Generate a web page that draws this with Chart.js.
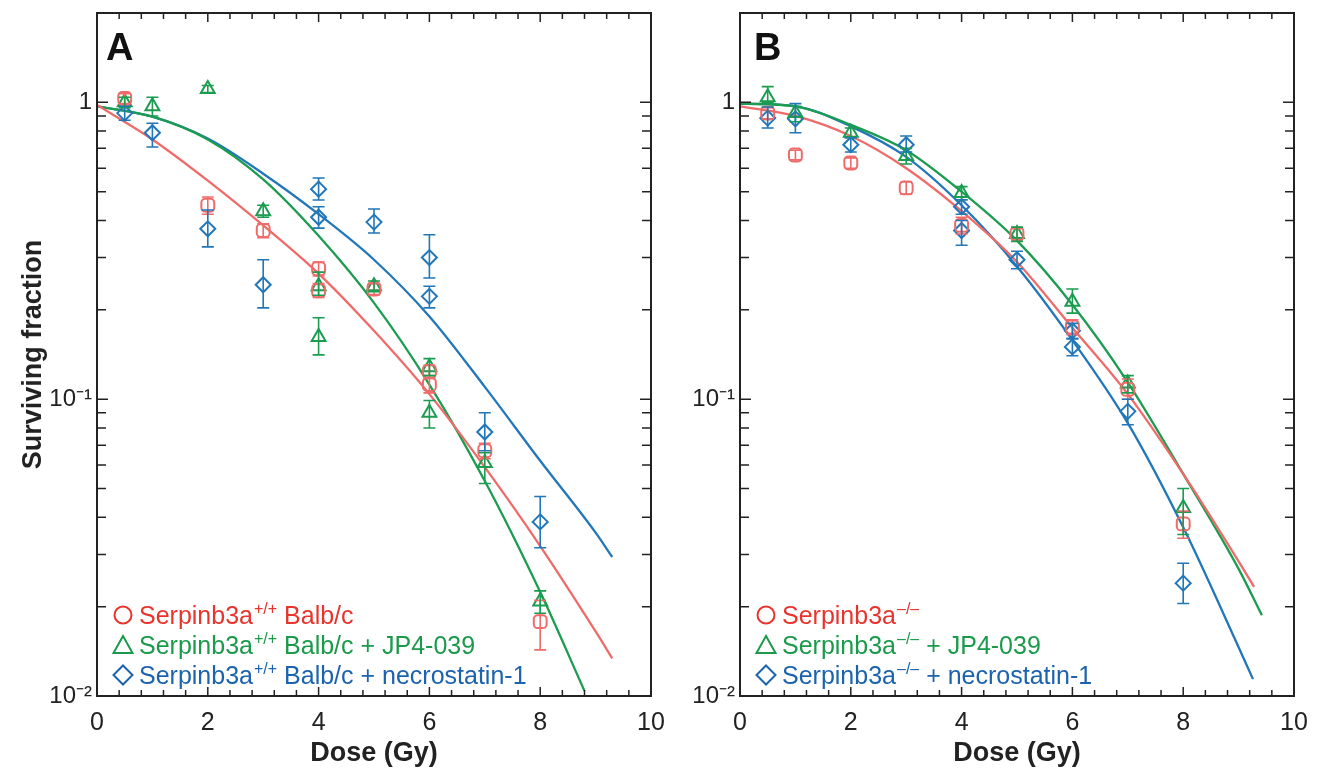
<!DOCTYPE html>
<html>
<head>
<meta charset="utf-8">
<script src="https://cdn.jsdelivr.net/npm/chart.js@4.4.1/dist/chart.umd.min.js"></script>
<style>
  html, body { margin: 0; padding: 0; background: #fff; }
  #wrap { position: relative; width: 1324px; height: 779px; }
  .panel { position: absolute; top: 0; }
</style>
</head>
<body>
<div id="wrap">
  <div class="panel" style="left:0"><canvas id="chartA" width="680" height="779"></canvas></div>
  <div class="panel" style="left:662px"><canvas id="chartB" width="662" height="779"></canvas></div>
</div>
<script>
// axis ticks
const doseTicks = [0, 2, 4, 6, 8, 10];
const fractionTicks = [0.01, 0.1, 1];

// Panel A - measured points (dose, surviving fraction, error bar low / high)
const aCtrlDose = [0.5, 2, 3, 4, 4, 5, 6, 6, 7, 8];
const aCtrlSF   = [1.03, 0.45, 0.37, 0.275, 0.232, 0.235, 0.124, 0.112, 0.067, 0.0178];
const aCtrlLo   = [0.99, 0.42, 0.35, 0.26, 0.22, 0.225, 0.118, 0.105, 0.063, 0.0143];
const aCtrlHi   = [1.07, 0.48, 0.39, 0.29, 0.245, 0.245, 0.13, 0.12, 0.071, 0.021];

const aJpDose = [0.5, 1, 2, 3, 4, 4, 5, 6, 6, 7, 8];
const aJpSF   = [1.0, 0.97, 1.11, 0.43, 0.24, 0.162, 0.24, 0.128, 0.09, 0.061, 0.0208];
const aJpLo   = [0.96, 0.9, 1.08, 0.41, 0.224, 0.141, 0.23, 0.12, 0.08, 0.052, 0.019];
const aJpHi   = [1.04, 1.04, 1.14, 0.45, 0.268, 0.188, 0.25, 0.137, 0.099, 0.066, 0.0226];

const aNecDose = [0.5, 1, 2, 3, 4, 4, 5, 6, 6, 7, 8];
const aNecSF   = [0.92, 0.79, 0.375, 0.243, 0.51, 0.41, 0.395, 0.3, 0.222, 0.0775, 0.0386];
const aNecLo   = [0.87, 0.707, 0.326, 0.203, 0.469, 0.377, 0.363, 0.256, 0.203, 0.067, 0.0316];
const aNecHi   = [0.97, 0.85, 0.434, 0.295, 0.556, 0.445, 0.437, 0.358, 0.24, 0.09, 0.047];

// Panel A - fitted curves
const aCtrlFitDose = [0, 1, 2, 3, 4, 5, 6, 7, 8, 9, 9.3];
const aCtrlFitSF   = [0.98, 0.75, 0.545, 0.385, 0.265, 0.17, 0.104, 0.059, 0.032, 0.0165, 0.0134];
const aJpFitDose = [0, 1, 2, 3, 4, 5, 6, 7, 8, 8.8];
const aJpFitSF   = [0.97, 0.895, 0.75, 0.55, 0.355, 0.211, 0.112, 0.053, 0.0224, 0.0104];
const aNecFitDose = [0, 1, 2, 3, 4, 5, 6, 7, 8, 9, 9.3];
const aNecFitSF   = [0.97, 0.895, 0.755, 0.575, 0.42, 0.295, 0.19, 0.11, 0.062, 0.0355, 0.0294];

// Panel B - measured points
const bKoDose = [0.5, 1, 2, 3, 4, 5, 6, 7, 8];
const bKoSF   = [0.92, 0.665, 0.625, 0.515, 0.385, 0.36, 0.175, 0.108, 0.038];
const bKoLo   = [0.88, 0.64, 0.6, 0.49, 0.36, 0.345, 0.165, 0.1, 0.034];
const bKoHi   = [0.96, 0.69, 0.65, 0.54, 0.41, 0.375, 0.185, 0.117, 0.042];

const bJpDose = [0.5, 1, 2, 3, 4, 5, 6, 7, 8];
const bJpSF   = [1.04, 0.92, 0.79, 0.66, 0.495, 0.36, 0.213, 0.113, 0.043];
const bJpLo   = [1.0, 0.86, 0.76, 0.62, 0.47, 0.34, 0.195, 0.105, 0.035];
const bJpHi   = [1.13, 0.97, 0.82, 0.7, 0.52, 0.38, 0.235, 0.12, 0.05];

const bNecDose = [0.5, 1, 2, 3, 4, 4, 5, 6, 6, 7, 8];
const bNecSF   = [0.885, 0.88, 0.72, 0.72, 0.445, 0.37, 0.295, 0.17, 0.15, 0.091, 0.024];
const bNecLo   = [0.82, 0.79, 0.68, 0.68, 0.42, 0.33, 0.275, 0.16, 0.14, 0.082, 0.0205];
const bNecHi   = [0.965, 0.99, 0.76, 0.77, 0.47, 0.4, 0.315, 0.18, 0.16, 0.1, 0.028];

// Panel B - fitted curves
const bKoFitDose = [0, 1, 2, 3, 4, 5, 6, 7, 8, 9, 9.28];
const bKoFitSF   = [0.97, 0.90, 0.77, 0.60, 0.43, 0.29, 0.174, 0.104, 0.056, 0.0284, 0.0233];
const bJpFitDose = [0, 1, 2, 3, 4, 5, 6, 7, 8, 9, 9.42];
const bJpFitSF   = [0.99, 0.97, 0.84, 0.69, 0.50, 0.342, 0.208, 0.114, 0.056, 0.0268, 0.0187];
const bNecFitDose = [0, 1, 2, 3, 4, 5, 6, 7, 8, 9, 9.26];
const bNecFitSF   = [0.99, 0.97, 0.83, 0.655, 0.45, 0.28, 0.158, 0.083, 0.037, 0.0146, 0.0114];

const FONT = '"Liberation Sans", Arial, Helvetica, sans-serif';
const RED = '#ef6b69', GREEN = '#1b9c50', BLUE = '#2177b8';
const RED_TXT = '#e8342d', GREEN_TXT = '#1a9a4a', BLUE_TXT = '#1c63af';

function pts(xs, ys) {
  return xs.map((x, i) => ({ x: x, y: ys[i] }));
}

function markerSet(xs, ys, lo, hi, color, style) {
  return {
    data: pts(xs, ys),
    errLo: lo, errHi: hi,
    showLine: false,
    pointStyle: style,
    pointRadius: style === 'rectRounded' ? 7.5 : (style === 'rectRot' ? 7.5 : 8),
    borderColor: color,
    backgroundColor: 'rgba(0,0,0,0)',
    pointBorderWidth: 2,
    order: 1
  };
}

function curveSet(xs, ys, color) {
  return {
    data: pts(xs, ys),
    showLine: true,
    pointRadius: 0,
    borderColor: color,
    borderWidth: 2.3,
    cubicInterpolationMode: 'monotone',
    fill: false,
    order: 2
  };
}

// frame, inward ticks, error bars, legend, panel letter
const panelDecor = {
  id: 'panelDecor',
  afterDatasetsDraw(chart) {
    const { ctx, scales: { x, y } } = chart;
    ctx.save();
    ctx.lineWidth = 1.6;
    chart.data.datasets.forEach((ds) => {
      if (!ds.errLo) return;
      ctx.strokeStyle = ds.borderColor;
      ds.data.forEach((p, i) => {
        const px = x.getPixelForValue(p.x);
        const y1 = y.getPixelForValue(ds.errLo[i]);
        const y2 = y.getPixelForValue(ds.errHi[i]);
        ctx.beginPath();
        ctx.moveTo(px, y1); ctx.lineTo(px, y2);
        ctx.moveTo(px - 6, y1); ctx.lineTo(px + 6, y1);
        ctx.moveTo(px - 6, y2); ctx.lineTo(px + 6, y2);
        ctx.stroke();
      });
    });
    ctx.restore();
  },
  afterDraw(chart, args, opts) {
    const { ctx, chartArea: a, scales: { x, y } } = chart;
    ctx.save();
    ctx.strokeStyle = '#222';
    ctx.lineWidth = 2;
    ctx.strokeRect(a.left, a.top, a.right - a.left, a.bottom - a.top);

    ctx.lineWidth = 1.5;
    ctx.beginPath();
    for (let i = 1; i < 25; i++) {
      const px = x.getPixelForValue(i * 0.4);
      const len = i % 5 === 0 ? 9 : 6;
      ctx.moveTo(px, a.bottom); ctx.lineTo(px, a.bottom - len);
      ctx.moveTo(px, a.top); ctx.lineTo(px, a.top + len);
    }
    [0.01, 0.1, 1].forEach((dec) => {
      for (let m = 1; m <= 9; m++) {
        const v = m * dec;
        if (v >= 2 || v <= 0.01) continue;
        const py = y.getPixelForValue(v);
        const len = m === 1 ? 11 : 9;
        ctx.moveTo(a.left, py); ctx.lineTo(a.left + len, py);
        ctx.moveTo(a.right, py); ctx.lineTo(a.right - len, py);
      }
    });
    ctx.stroke();

    // panel letter
    ctx.fillStyle = '#111';
    ctx.font = 'bold 38px ' + FONT;
    ctx.textBaseline = 'alphabetic';
    ctx.fillText(opts.letter, a.left + opts.letterDx, a.top + 47);

    // legend
    opts.entries.forEach((e, i) => {
      const cy = a.bottom - 81 + i * 30;
      const sx = a.left + 26;
      ctx.strokeStyle = e.color;
      ctx.lineWidth = 2;
      ctx.beginPath();
      if (e.shape === 'circle') {
        ctx.arc(sx, cy, 8.5, 0, Math.PI * 2);
      } else if (e.shape === 'triangle') {
        ctx.moveTo(sx, cy - 9); ctx.lineTo(sx + 9.5, cy + 8); ctx.lineTo(sx - 9.5, cy + 8); ctx.closePath();
      } else {
        ctx.moveTo(sx, cy - 9.5); ctx.lineTo(sx + 9.5, cy); ctx.lineTo(sx, cy + 9.5); ctx.lineTo(sx - 9.5, cy); ctx.closePath();
      }
      ctx.stroke();
      ctx.fillStyle = e.color;
      let tx = a.left + 42;
      const base = cy + 9;
      ctx.font = '25px ' + FONT;
      ctx.fillText('Serpinb3a', tx, base);
      tx += ctx.measureText('Serpinb3a').width + 1;
      ctx.font = '16px ' + FONT;
      ctx.fillText(e.sup, tx, base - 10);
      tx += ctx.measureText(e.sup).width;
      ctx.font = '25px ' + FONT;
      ctx.fillText(e.tail, tx, base);
    });
    ctx.restore();
  }
};

function decadeLabel(v) {
  const p = Math.round(Math.log10(v));
  if (p === 0) return '1';
  return '10\u207B' + (p === -1 ? '\u00B9' : '\u00B2');
}

function makeOptions(yWidth, rightPad, showYTitle, decor) {
  return {
    responsive: false,
    animation: false,
    layout: { padding: { left: 0, right: rightPad, top: 13, bottom: 0 } },
    plugins: {
      legend: { display: false },
      tooltip: { enabled: false },
      panelDecor: decor
    },
    scales: {
      x: {
        type: 'linear', min: 0, max: 10,
        grid: { display: false, drawTicks: false },
        border: { display: false },
        afterBuildTicks: (s) => { s.ticks = doseTicks.map((v) => ({ value: v })); },
        ticks: { font: { size: 25, family: FONT }, color: '#222', padding: 12, maxRotation: 0 },
        title: { display: true, text: 'Dose (Gy)', color: '#222',
                 font: { size: 27, weight: 'bold', family: FONT }, padding: { top: 0, bottom: 9 } },
        afterFit: (s) => { s.height = 83; s.paddingLeft = 0; s.paddingRight = 0; }
      },
      y: {
        type: 'logarithmic', min: 0.01, max: 2,
        grid: { display: false, drawTicks: false },
        border: { display: false },
        afterBuildTicks: (s) => { s.ticks = fractionTicks.map((v) => ({ value: v })); },
        ticks: { callback: (v) => decadeLabel(v), font: { size: 24, family: FONT }, color: '#222', padding: 5 },
        title: { display: showYTitle, text: 'Surviving fraction', color: '#222',
                 font: { size: 27, weight: 'bold', family: FONT }, padding: { top: 17, bottom: 0 } },
        afterFit: (s) => { s.width = yWidth; s.paddingTop = 0; s.paddingBottom = 0; }
      }
    }
  };
}

new Chart(document.getElementById('chartA'), {
  type: 'scatter',
  data: {
    datasets: [
      curveSet(aCtrlFitDose, aCtrlFitSF, RED),
      curveSet(aJpFitDose, aJpFitSF, GREEN),
      curveSet(aNecFitDose, aNecFitSF, BLUE),
      markerSet(aCtrlDose, aCtrlSF, aCtrlLo, aCtrlHi, RED, 'rectRounded'),
      markerSet(aJpDose, aJpSF, aJpLo, aJpHi, GREEN, 'triangle'),
      markerSet(aNecDose, aNecSF, aNecLo, aNecHi, BLUE, 'rectRot')
    ]
  },
  options: makeOptions(97, 29, true, {
    letter: 'A', letterDx: 9,
    entries: [
      { shape: 'circle', color: RED_TXT, sup: '+/+', tail: ' Balb/c' },
      { shape: 'triangle', color: GREEN_TXT, sup: '+/+', tail: ' Balb/c + JP4-039' },
      { shape: 'diamond', color: BLUE_TXT, sup: '+/+', tail: ' Balb/c + necrostatin-1' }
    ]
  }),
  plugins: [panelDecor]
});

new Chart(document.getElementById('chartB'), {
  type: 'scatter',
  data: {
    datasets: [
      curveSet(bKoFitDose, bKoFitSF, RED),
      curveSet(bJpFitDose, bJpFitSF, GREEN),
      curveSet(bNecFitDose, bNecFitSF, BLUE),
      markerSet(bKoDose, bKoSF, bKoLo, bKoHi, RED, 'rectRounded'),
      markerSet(bJpDose, bJpSF, bJpLo, bJpHi, GREEN, 'triangle'),
      markerSet(bNecDose, bNecSF, bNecLo, bNecHi, BLUE, 'rectRot')
    ]
  },
  options: makeOptions(78, 30, false, {
    letter: 'B', letterDx: 14,
    entries: [
      { shape: 'circle', color: RED_TXT, sup: '\u2013/\u2013', tail: '' },
      { shape: 'triangle', color: GREEN_TXT, sup: '\u2013/\u2013', tail: ' + JP4-039' },
      { shape: 'diamond', color: BLUE_TXT, sup: '\u2013/\u2013', tail: ' + necrostatin-1' }
    ]
  }),
  plugins: [panelDecor]
});
</script>
</body>
</html>
